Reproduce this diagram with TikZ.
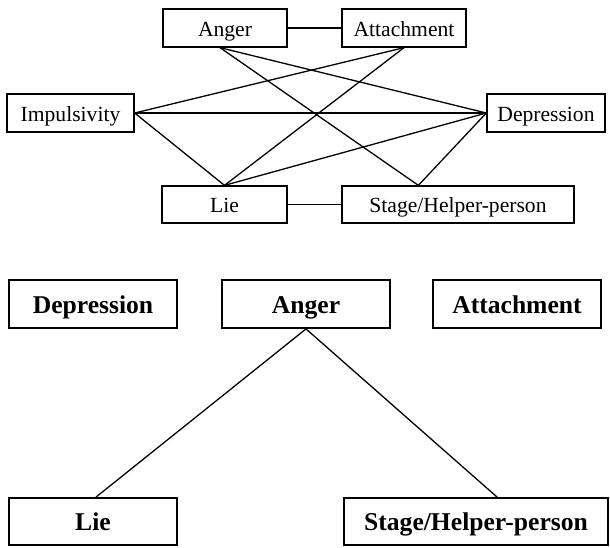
\documentclass[tikz,border=0pt]{standalone}
\usepackage{fontspec}
\setmainfont{Liberation Serif}
\begin{document}
\begin{tikzpicture}[x=1pt,y=-1pt,
  boxa/.style={draw, line width=1.3pt, rectangle, inner sep=0pt, text height=18pt, text depth=2pt, font=\fontsize{21.6}{24}\selectfont},
  boxb/.style={draw, line width=1.8pt, rectangle, inner sep=0pt, text height=20pt, text depth=2pt, font=\fontsize{25.6}{29}\selectfont\bfseries},
  link/.style={line width=1.3pt}]
\useasboundingbox (0,0) rectangle (610,547);
% top diagram
\node[boxa, minimum width=124pt, minimum height=38pt] (anger) at (225,28) {Anger};
\node[boxa, minimum width=124pt, minimum height=38pt] (attach) at (404,28) {Attachment};
\node[boxa, minimum width=127pt, minimum height=38pt] (impul) at (70.5,113) {Impulsivity};
\node[boxa, minimum width=118pt, minimum height=38pt] (depr) at (546,113) {Depression};
\node[boxa, minimum width=125pt, minimum height=37pt] (lie) at (224.5,204.5) {Lie};
\node[boxa, minimum width=232pt, minimum height=37pt] (stage) at (458,204.5) {Stage/Helper-person};
\coordinate (angerb) at ([xshift=-5pt]anger.south);
\coordinate (staget) at ([xshift=77pt]stage.north west);
\draw[link] (anger) -- (attach);
\draw[link] (lie) -- (stage);
\draw[link] (angerb) -- (depr.west);
\draw[link] (angerb) -- (staget);
\draw[link] (attach.south) -- (impul.east);
\draw[link] (attach.south) -- (lie.north);
\draw[link] (impul.east) -- (depr.west);
\draw[link] (impul.east) -- (lie.north);
\draw[link] (depr.west) -- (lie.north);
\draw[link] (depr.west) -- (staget);
% bottom diagram
\node[boxb, minimum width=168pt, minimum height=48pt] (dep2) at (93,304) {Depression};
\node[boxb, minimum width=168pt, minimum height=48pt] (ang2) at (306,304) {Anger};
\node[boxb, minimum width=168pt, minimum height=48pt] (att2) at (517,304) {Attachment};
\node[boxb, minimum width=168pt, minimum height=47pt] (lie2) at (93,521.5) {Lie};
\node[boxb, minimum width=264pt, minimum height=47pt] (stg2) at (476,521.5) {Stage/Helper-person};
\coordinate (lie2t) at ([xshift=3pt]lie2.north);
\coordinate (stg2t) at ([xshift=154pt]stg2.north west);
\draw[link] (ang2.south) -- (lie2t);
\draw[link] (ang2.south) -- (stg2t);
\end{tikzpicture}
\end{document}
